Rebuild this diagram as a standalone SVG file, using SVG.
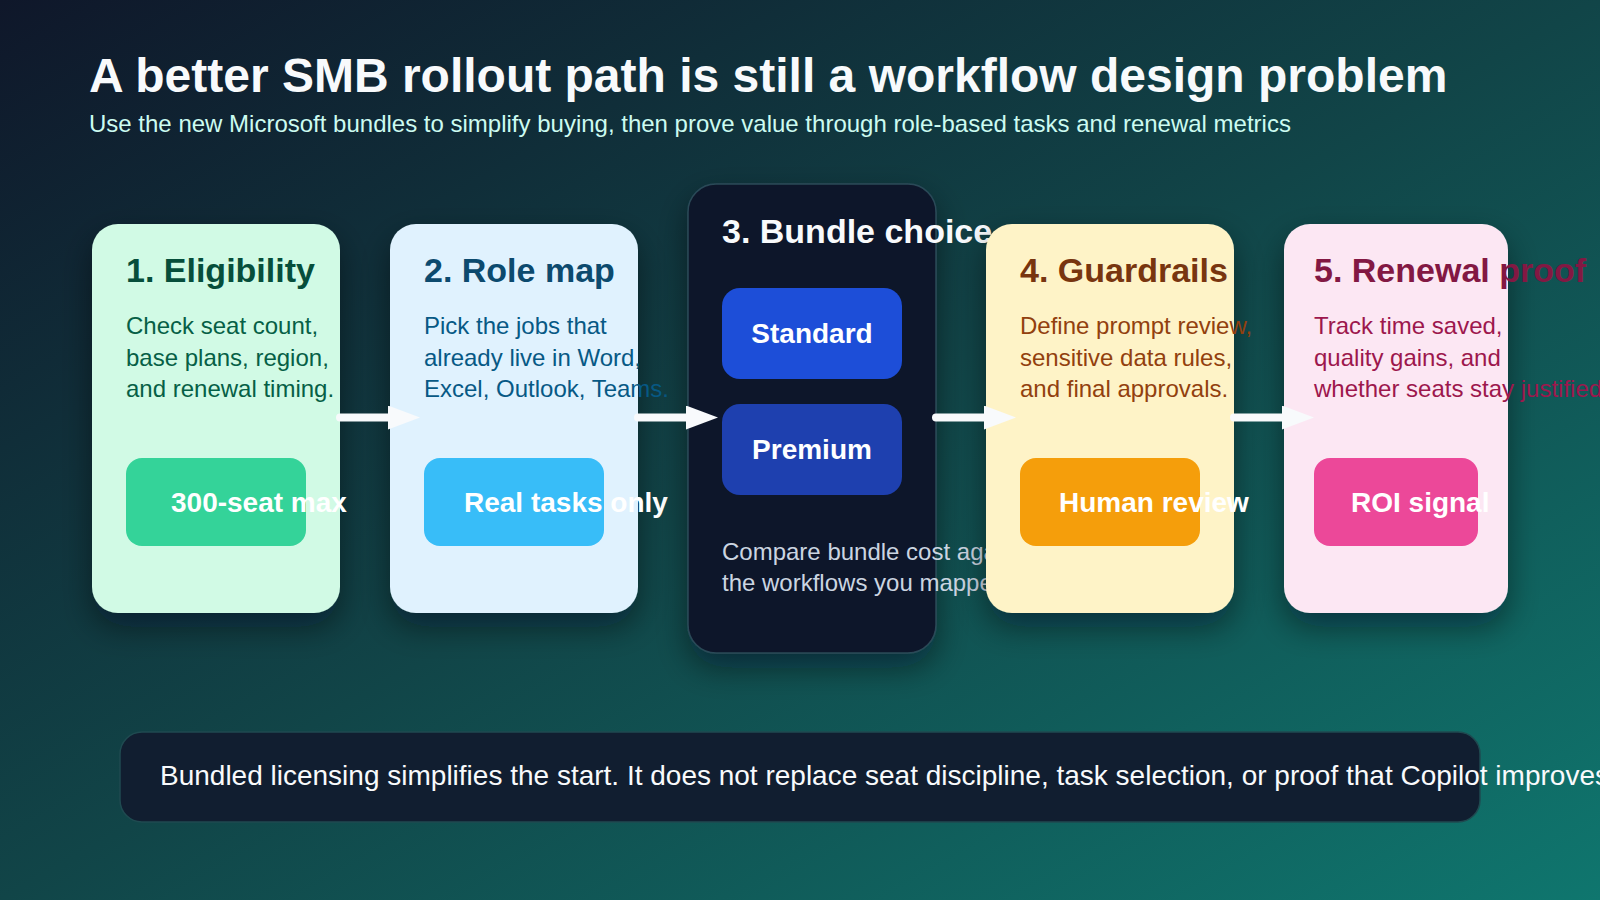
<svg xmlns="http://www.w3.org/2000/svg" width="1600" height="900" viewBox="0 0 1600 900">
  <defs>
    <linearGradient id="bg" x1="0" y1="0" x2="1" y2="1">
      <stop offset="0" stop-color="#0f172a"/>
      <stop offset="0.5" stop-color="#114548"/>
      <stop offset="1" stop-color="#0f766e"/>
    </linearGradient>
    <filter id="shadow" x="-20%" y="-20%" width="140%" height="140%">
      <feDropShadow dx="0" dy="14" stdDeviation="16" flood-color="#020617" flood-opacity="0.45"/>
    </filter>
    <marker id="ah" markerUnits="userSpaceOnUse" markerWidth="32" markerHeight="24" refX="0" refY="12" orient="auto">
      <path d="M0,0 L32,12 L0,24 Z" fill="#f8fafc"/>
    </marker>
    <style>
      text { font-family: "Liberation Sans", Arial, Helvetica, sans-serif; }
      .title { font-size: 48px; font-weight: 700; fill: #f8fafc; }
      .sub { font-size: 24px; fill: #ccfbf1; }
      .ct { font-size: 34px; font-weight: 700; }
      .body { font-size: 24px; }
      .badge { font-size: 28px; font-weight: 700; fill: #ffffff; }
      .card { filter: url(#shadow); }
      .conn { stroke: #f8fafc; stroke-width: 8; stroke-linecap: round; fill: none; }
    </style>
  </defs>

  <rect x="0" y="0" width="1600" height="900" fill="url(#bg)"/>

  <g id="header">
    <text x="89" y="92" class="title">A better SMB rollout path is still a workflow design problem</text>
    <text x="89" y="132" class="sub">Use the new Microsoft bundles to simplify buying, then prove value through role-based tasks and renewal metrics</text>
  </g>

  <g id="node-eligibility">
    <rect class="card" x="92" y="224" width="248" height="389" rx="26" fill="#d1fae5"/>
    <text x="126" y="282" class="ct" fill="#064e3b">1. Eligibility</text>
    <text class="body" fill="#065f46"><tspan x="126" y="334">Check seat count,</tspan><tspan x="126" y="366">base plans, region,</tspan><tspan x="126" y="397">and renewal timing.</tspan></text>
    <rect x="126" y="458" width="180" height="88" rx="16" fill="#34d399"/>
    <text x="171" y="512" class="badge" font-size="26">300-seat max</text>
  </g>

  <g id="node-rolemap">
    <rect class="card" x="390" y="224" width="248" height="389" rx="26" fill="#e0f2fe"/>
    <text x="424" y="282" class="ct" fill="#0c4a6e">2. Role map</text>
    <text class="body" fill="#075985"><tspan x="424" y="334">Pick the jobs that</tspan><tspan x="424" y="366">already live in Word,</tspan><tspan x="424" y="397">Excel, Outlook, Teams.</tspan></text>
    <rect x="424" y="458" width="180" height="88" rx="16" fill="#38bdf8"/>
    <text x="464" y="512" class="badge">Real tasks only</text>
  </g>

  <g id="node-bundle">
    <rect class="card" x="688" y="184" width="248" height="469" rx="28" fill="#0f172a" stroke="#2b4a58" stroke-width="1.5"/>
    <text x="722" y="243" class="ct" fill="#f8fafc">3. Bundle choice</text>
    <rect x="722" y="288" width="180" height="91" rx="18" fill="#1d4ed8"/>
    <text x="812" y="343" class="badge" text-anchor="middle">Standard</text>
    <rect x="722" y="404" width="180" height="91" rx="18" fill="#1e40af"/>
    <text x="812" y="459" class="badge" text-anchor="middle">Premium</text>
    <text class="body" fill="#cbd5e1"><tspan x="722" y="560">Compare bundle cost against</tspan><tspan x="722" y="591">the workflows you mapped.</tspan></text>
  </g>

  <g id="node-guardrails">
    <rect class="card" x="986" y="224" width="248" height="389" rx="26" fill="#fef3c7"/>
    <text x="1020" y="282" class="ct" fill="#78350f">4. Guardrails</text>
    <text class="body" fill="#92400e"><tspan x="1020" y="334">Define prompt review,</tspan><tspan x="1020" y="366">sensitive data rules,</tspan><tspan x="1020" y="397">and final approvals.</tspan></text>
    <rect x="1020" y="458" width="180" height="88" rx="16" fill="#f59e0b"/>
    <text x="1059" y="512" class="badge">Human review</text>
  </g>

  <g id="node-renewal">
    <rect class="card" x="1284" y="224" width="224" height="389" rx="26" fill="#fce7f3"/>
    <text x="1314" y="282" class="ct" fill="#831843">5. Renewal proof</text>
    <text class="body" fill="#9d174d"><tspan x="1314" y="334">Track time saved,</tspan><tspan x="1314" y="366">quality gains, and</tspan><tspan x="1314" y="397">whether seats stay justified.</tspan></text>
    <rect x="1314" y="458" width="164" height="88" rx="16" fill="#ec4899"/>
    <text x="1351" y="512" class="badge">ROI signal</text>
  </g>

  <g id="connectors">
    <line class="conn" x1="340" y1="417.5" x2="388" y2="417.5" marker-end="url(#ah)"/>
    <line class="conn" x1="638" y1="417.5" x2="686" y2="417.5" marker-end="url(#ah)"/>
    <line class="conn" x1="936" y1="417.5" x2="984" y2="417.5" marker-end="url(#ah)"/>
    <line class="conn" x1="1234" y1="417.5" x2="1282" y2="417.5" marker-end="url(#ah)"/>
  </g>

  <g id="banner">
    <rect x="120" y="732" width="1360" height="90" rx="22" fill="#111e30" stroke="#1f4a50" stroke-width="1.5"/>
    <text x="160" y="785" font-size="28" fill="#f8fafc">Bundled licensing simplifies the start. It does not replace seat discipline, task selection, or proof that Copilot improves</text>
  </g>
</svg>
